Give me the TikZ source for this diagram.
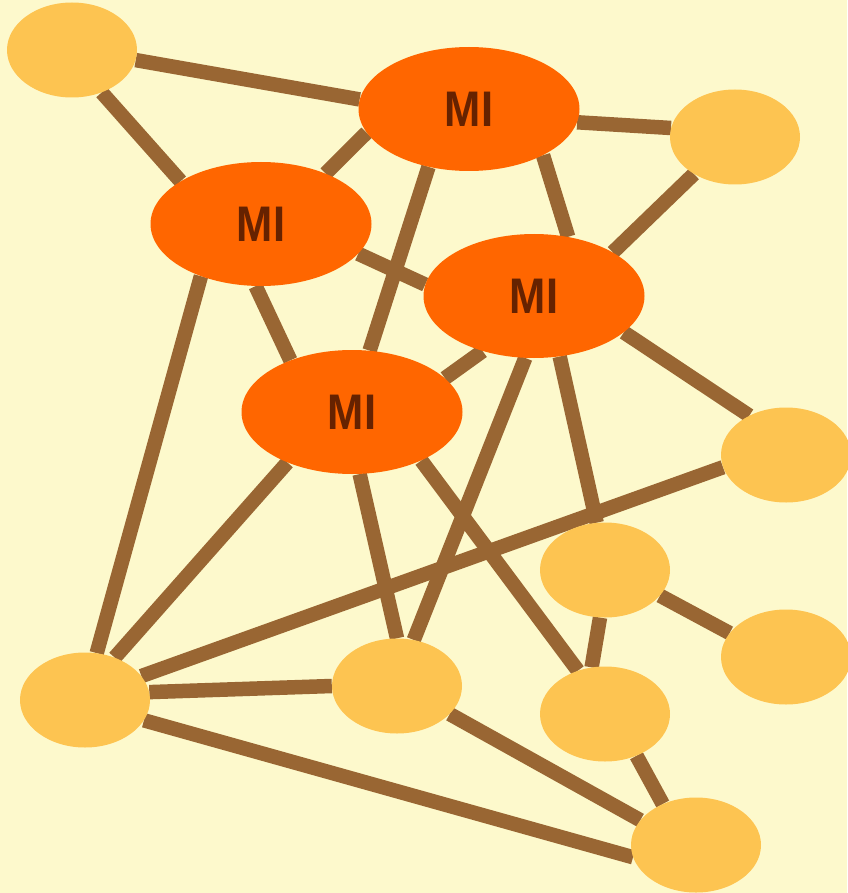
\documentclass[tikz,border=0pt]{standalone}
\usepackage{fontspec}
\setmainfont{Liberation Sans}
\usetikzlibrary{shapes.geometric,backgrounds}
\definecolor{bgc}{HTML}{FDF9CC}
\definecolor{mic}{HTML}{FF6600}
\definecolor{mitext}{HTML}{662200}
\definecolor{smc}{HTML}{FDC451}
\definecolor{edgec}{HTML}{996633}
\tikzset{
  small/.style={ellipse, fill=smc, minimum width=130pt, minimum height=95pt, inner sep=0pt},
  mi/.style={ellipse, fill=mic, minimum width=221pt, minimum height=124pt, inner sep=0pt,
    text=mitext, font=\fontsize{50}{50}\selectfont\bfseries},
  link/.style={draw=edgec, line width=14.5pt}
}
\newcommand{\milabel}{\scalebox{0.87}[1]{MI}}
\begin{document}
\begin{tikzpicture}[x=1pt,y=-1pt]
\useasboundingbox (0,0) rectangle (847,893);
% nodes
\node[small] (A) at (72,50) {};
\node[small] (B) at (735,137) {};
\node[small] (C) at (786,455) {};
\node[small] (D) at (605,570) {};
\node[small] (E) at (786,657) {};
\node[small] (F) at (85,700) {};
\node[small] (G) at (397,686) {};
\node[small] (H) at (605,714) {};
\node[small] (I) at (696,845) {};
\node[mi] (M1) at (469,109) {\milabel};
\node[mi] (M2) at (261,224) {\milabel};
\node[mi] (M3) at (534,296) {\milabel};
\node[mi] (M4) at (352,412) {\milabel};
\begin{scope}[on background layer]
\fill[bgc] (0,0) rectangle (847,893);
\draw[link] (A.-9) -- (M1.175);
\draw[link] (A.-55) -- (M2.152);
\draw[link] (M2.38) -- (M1.193);
\draw[link] (M1.-7) -- (B.172);
\draw[link] (M1.-32) -- (M3.60);
\draw[link] (M1.235) -- (M4.74);
\draw[link] (M2.-17) -- (M3.174);
\draw[link] (M2.265) -- (M4.140);
\draw[link] (M2.221) -- (F.76);
\draw[link] (B.222) -- (M3.29);
\draw[link] (M3.-22) -- (C.133);
\draw[link] (M3.227) -- (M4.20);
\draw[link] (M3.262) -- (G.70);
\draw[link] (M3.-67) -- (D.100);
\draw[link] (M4.218) -- (F.55);
\draw[link] (M4.-83) -- (G.90);
\draw[link] (M4.-35) -- (H.122);
\draw[link] (C.191) -- (F.23);
\draw[link] (D.-25) -- (E.157);
\draw[link] (D.264) -- (H.106);
\draw[link] (F.7) -- (G.180);
\draw[link] (F.-19) -- (I.191);
\draw[link] (G.-28) -- (I.156);
\draw[link] (H.-53) -- (I.129);
\end{scope}
\end{tikzpicture}
\end{document}
